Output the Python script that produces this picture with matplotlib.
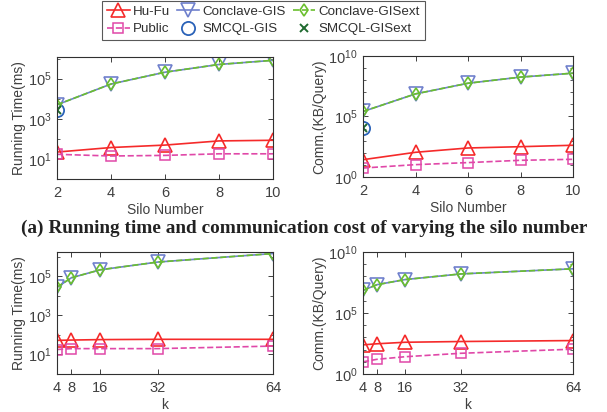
import matplotlib
matplotlib.use("Agg")
import matplotlib.pyplot as plt
import matplotlib.ticker as mticker
import numpy as np

plt.rcParams['font.family'] = ['Liberation Sans', 'DejaVu Sans']
plt.rcParams['mathtext.fontset'] = 'custom'
plt.rcParams['mathtext.rm'] = 'Liberation Sans'

# ---------------- data ----------------
silo = [2, 4, 6, 8, 10]
k_vals = [4, 8, 16, 32, 64]

# (a) running time vs silo number (ms)
time_hufu_silo = [22, 37, 49, 79, 85]
time_public_silo = [17, 14, 15, 18, 18]
time_conclave_silo = [5000, 54000, 210000, 510000, 820000]
time_conclaveext_silo = [5000, 54000, 210000, 510000, 820000]
time_smcql_silo = [2800]
time_smcqlext_silo = [2800]

# communication vs silo number (KB/query)
comm_hufu_silo = [27, 110, 250, 320, 420]
comm_public_silo = [5.5, 10.5, 15.5, 24, 29]
comm_conclave_silo = [2.6e5, 7.4e6, 5.6e7, 1.8e8, 3.8e8]
comm_conclaveext_silo = [2.6e5, 7.4e6, 5.6e7, 1.8e8, 3.8e8]
comm_smcql_silo = [1.1e4]
comm_smcqlext_silo = [1.1e4]

# running time vs k
time_hufu_k = [53, 55, 58, 60, 60]
time_public_k = [18, 20, 20, 20, 27]
time_conclave_k = [2.8e4, 8.6e4, 2.2e5, 5.5e5, 1.5e6]
time_conclaveext_k = [2.8e4, 8.6e4, 2.2e5, 5.5e5, 1.5e6]

# communication vs k
comm_hufu_k = [245, 300, 400, 460, 550]
comm_public_k = [10, 16, 26, 50, 108]
comm_conclave_k = [7.2e6, 2.1e7, 5.5e7, 1.6e8, 4.2e8]
comm_conclaveext_k = [7.2e6, 2.1e7, 5.5e7, 1.6e8, 4.2e8]

series_names = ['Hu-Fu', 'Public', 'Conclave-GIS', 'SMCQL-GIS', 'Conclave-GISext', 'SMCQL-GISext']
caption = '(a) Running time and communication cost of varying the silo number'

# ---------------- styles ----------------
C_HUFU = '#f52a2a'
C_PUB = '#e048a8'
C_CONC = '#6f80cc'
C_CONCX = '#6abf2e'
C_SMCQL = '#2a62b8'
C_SMCQLX = '#1f6a2f'
TXT = '#404040'
FS = 10

W, H = 607, 412
fig = plt.figure(figsize=(W / 100, H / 100), dpi=100)

def ax_at(l, t, r, b):
    return fig.add_axes([l / W, 1 - b / H, (r - l) / W, (b - t) / H])

axTL = ax_at(57, 57, 273, 179)
axTR = ax_at(363, 56, 573, 177)
axBL = ax_at(57, 252, 273, 374)
axBR = ax_at(363, 252, 573, 374)

ms = 9
lw = 1.2

def draw(ax, x, hufu, pub, conc, concx, smcql=None, smcqlx=None, sx=None):
    h = []
    h.append(ax.plot(x, hufu, '-', color=C_HUFU, marker='^', ms=ms + 0.5, mfc='none', mew=1.2, lw=lw, label=series_names[0])[0])
    h.append(ax.plot(x, pub, '--', color=C_PUB, marker='s', ms=7.5, mfc='none', mew=1.1, lw=lw, label=series_names[1])[0])
    h.append(ax.plot(x, conc, '-', color=C_CONC, marker='v', ms=ms + 1.5, mfc='none', mew=1.2, lw=lw, label=series_names[2])[0])
    if smcql is not None:
        h.append(ax.plot(sx, smcql, linestyle='none', color=C_SMCQL, marker='o', ms=ms + 0.5, mfc='none', mew=1.3, label=series_names[3])[0])
    h.append(ax.plot(x, concx, '--', color=C_CONCX, marker='d', ms=6.5, mfc='none', mew=1.2, lw=lw, label=series_names[4])[0])
    if smcqlx is not None:
        h.append(ax.plot(sx, smcqlx, linestyle='none', color=C_SMCQLX, marker='x', ms=6, mew=1.4, label=series_names[5])[0])
    return h

handles = draw(axTL, silo, time_hufu_silo, time_public_silo, time_conclave_silo, time_conclaveext_silo,
               time_smcql_silo, time_smcqlext_silo, silo[:1])
draw(axTR, silo, comm_hufu_silo, comm_public_silo, comm_conclave_silo, comm_conclaveext_silo,
     comm_smcql_silo, comm_smcqlext_silo, silo[:1])
draw(axBL, k_vals, time_hufu_k, time_public_k, time_conclave_k, time_conclaveext_k)
draw(axBR, k_vals, comm_hufu_k, comm_public_k, comm_conclave_k, comm_conclaveext_k)

def style(ax, xt, xlabel, ylabel, ylim, major, minor):
    ax.set_yscale('log')
    ax.set_xlim(xt[0], xt[-1])
    ax.set_xticks(xt)
    ax.set_ylim(*ylim)
    ax.yaxis.set_major_locator(mticker.FixedLocator(major))
    ax.yaxis.set_major_formatter(mticker.LogFormatterMathtext())
    ax.yaxis.set_minor_locator(mticker.FixedLocator(minor))
    ax.yaxis.set_minor_formatter(mticker.NullFormatter())
    ax.tick_params(which='both', direction='in', top=True, right=True, colors=TXT, labelsize=FS + 0.5)
    ax.tick_params(axis='x', pad=5)
    ax.tick_params(axis='y', pad=4)
    ax.tick_params(which='major', length=3.5, width=0.7)
    ax.tick_params(which='minor', length=2, width=0.6)
    for s in ax.spines.values():
        s.set_color('#303030')
        s.set_linewidth(0.8)
    ax.set_xlabel(xlabel, fontsize=FS, color=TXT, labelpad=2)
    ax.set_ylabel(ylabel, fontsize=FS, color=TXT, labelpad=1)
    for lab in ax.get_xticklabels() + ax.get_yticklabels():
        lab.set_color(TXT)

style(axTL, silo, 'Silo Number', 'Running Time(ms)', (1, 1.2e6), [1e1, 1e3, 1e5], [1e0, 1e2, 1e4, 1e6])
style(axTR, silo, 'Silo Number', 'Comm.(KB/Query)', (1, 1e10), [1e0, 1e5, 1e10], [10.0 ** i for i in range(1, 10) if i != 5])
style(axBL, k_vals, 'k', 'Running Time(ms)', (1, 1.8e6), [1e1, 1e3, 1e5], [1e0, 1e2, 1e4, 1e6])
style(axBR, k_vals, 'k', 'Comm.(KB/Query)', (1, 1e10), [1e0, 1e5, 1e10], [10.0 ** i for i in range(1, 10) if i != 5])

leg = fig.legend(handles=handles, labels=series_names, loc='upper center', ncol=3,
                 bbox_to_anchor=(263.5 / W, 1.0), frameon=True, fontsize=9.6,
                 handlelength=1.7, handletextpad=0.25, columnspacing=0.5, labelspacing=0.4,
                 borderpad=0.35, fancybox=False, borderaxespad=0.05)
leg.get_frame().set_edgecolor('#303030')
leg.get_frame().set_linewidth(0.8)
for t in leg.get_texts():
    t.set_color('#303030')

fig.text(304.5 / W, 1 - 228 / H, caption, ha='center', va='center',
         fontsize=13.9, fontweight='bold', family='Liberation Serif', color='#222222')

fig.savefig('out.png', dpi=100)
